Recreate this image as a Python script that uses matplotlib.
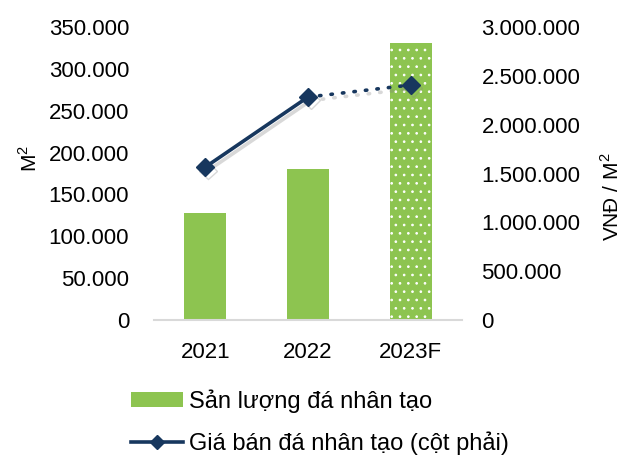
import matplotlib.pyplot as plt
import matplotlib.patheffects as pe
from matplotlib.ticker import FuncFormatter
from matplotlib.patches import Patch
from matplotlib.lines import Line2D

plt.rcParams['font.family'] = ['Liberation Sans', 'DejaVu Sans']
plt.rcParams['hatch.linewidth'] = 0.7
plt.rcParams['mathtext.fontset'] = 'custom'
plt.rcParams['mathtext.rm'] = 'Liberation Sans'

# data
years = ['2021', '2022', '2023F']
output_m2 = [128000, 180000, 331000]          # left axis, M2
price_vnd = [1566000, 2283000, 2406000]        # right axis, VND / M2

green = '#8DC450'
navy = '#17375E'

def dot_fmt(v, pos):
    return f'{int(v):,}'.replace(',', '.')

fig = plt.figure(figsize=(6.38, 4.57), dpi=100)
ax = fig.add_axes([154/638, 1-320/457, 308/638, 293/457])
ax2 = ax.twinx()

x = list(range(len(years)))
bars = ax.bar(x, output_m2, width=0.41, color=green, linewidth=0, zorder=2)
# forecast bar gets white dots
bars[2].set_hatch('..')
bars[2].set_edgecolor('white')
bars[2].set_linewidth(0)

ax.set_xlim(-0.5, 2.5)
ax.set_ylim(0, 350000)
ax.set_yticks(range(0, 350001, 50000))
ax.yaxis.set_major_formatter(FuncFormatter(dot_fmt))
ax2.set_ylim(0, 3000000)
ax2.set_yticks(range(0, 3000001, 500000))
ax2.yaxis.set_major_formatter(FuncFormatter(dot_fmt))

ax.set_xticks(x)
ax.set_xticklabels(years)

for a in (ax, ax2):
    for s in a.spines.values():
        s.set_visible(False)
    a.tick_params(length=0, labelsize=16)
ax.spines['bottom'].set_visible(True)
ax.spines['bottom'].set_color('#D9D9D9')
ax.spines['bottom'].set_linewidth(1.5)
ax.tick_params(axis='y', pad=18)
ax.tick_params(axis='x', pad=16)
ax2.tick_params(axis='y', pad=14)

ax.set_ylabel(r'M$^\mathregular{2}$', fontsize=15)
ax.yaxis.set_label_coords(-0.367, 0.55)
ax2.set_ylabel(r'VNĐ / M$^\mathregular{2}$', fontsize=15)
ax2.yaxis.set_label_coords(1.448, 0.42)

shadow = [pe.SimpleLineShadow(offset=(2, -2.5), shadow_color='gray', alpha=0.3), pe.Normal()]
ax2.plot(x[:2], price_vnd[:2], color=navy, lw=2.6, solid_capstyle='round',
         path_effects=shadow, zorder=3)
ax2.plot(x[1:], price_vnd[1:], color=navy, lw=2.6, linestyle=(0, (0.4, 2.8)),
         dash_capstyle='round', path_effects=shadow, zorder=3)
ax2.plot(x, price_vnd, linestyle='none', marker='D', markersize=9, color=navy,
         path_effects=shadow, zorder=4)

handles = [Patch(facecolor=green, edgecolor='none'),
           Line2D([0], [0], color=navy, lw=2.6, marker='D', markersize=7)]
labels = ['Sản lượng đá nhân tạo', 'Giá bán đá nhân tạo (cột phải)']
fig.legend(handles, labels, loc='upper left', bbox_to_anchor=(110/638, 1-368/457),
           frameon=False, fontsize=17, handlelength=2.2, handleheight=0.6,
           handletextpad=0.25, labelspacing=0.8)

fig.savefig('out.png', dpi=100)
